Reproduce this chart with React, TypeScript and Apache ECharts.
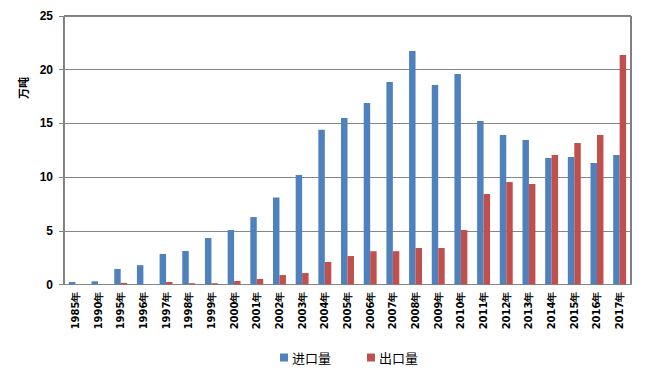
import React, { useEffect, useRef } from "react";
import * as echarts from "echarts";

const categories = [
  "1985年", "1990年", "1995年", "1996年", "1997年", "1998年", "1999年",
  "2000年", "2001年", "2002年", "2003年", "2004年", "2005年", "2006年",
  "2007年", "2008年", "2009年", "2010年", "2011年", "2012年", "2013年",
  "2014年", "2015年", "2016年", "2017年",
];
const importValues = [
  0.23, 0.3, 1.44, 1.8, 2.84, 3.12, 4.33, 5.07, 6.28, 8.1, 10.2, 14.4, 15.5,
  16.9, 18.85, 21.74, 18.58, 19.6, 15.22, 13.92, 13.45, 11.78, 11.87, 11.31, 12.06,
];
const exportValues = [
  0, 0, 0.15, 0, 0.23, 0.12, 0.12, 0.33, 0.51, 0.88, 1.07, 2.1, 2.65,
  3.1, 3.1, 3.4, 3.4, 5.07, 8.43, 9.54, 9.36, 12.06, 13.17, 13.92, 21.37,
];
const seriesNames = ["进口量", "出口量"];
const yUnit = "万吨";

export default function App() {
  const ref = useRef<HTMLDivElement>(null);
  useEffect(() => {
    if (!ref.current) return;
    const chart = echarts.init(ref.current, undefined, { renderer: "svg" });
    chart.setOption({
      animation: false,
      backgroundColor: "#fff",
      grid: {
        left: 64,
        right: 24,
        top: 16,
        bottom: 93.5,
        show: true,
        borderColor: "#000",
        borderWidth: 1,
        backgroundColor: "transparent",
      },
      legend: {
        data: seriesNames,
        top: 351,
        left: 280,
        padding: 0,
        itemWidth: 8,
        itemHeight: 8,
        itemGap: 36,
        icon: "rect",
        textStyle: { fontSize: 13, color: "#000", fontFamily: "Noto Sans CJK SC", padding: [0, 0, 0, -1] },
      },
      graphic: [
        {
          type: "text",
          x: 17,
          y: 99,
          rotation: Math.PI / 2,
          style: {
            text: yUnit,
            fontSize: 11,
            fontWeight: "bold",
            fill: "#000",
            fontFamily: "Noto Sans CJK SC",
          },
        },
      ],
      xAxis: {
        type: "category",
        data: categories,
        axisLine: { lineStyle: { color: "#868686" } },
        axisTick: { show: false },
        axisLabel: {
          rotate: 90,
          interval: 0,
          margin: 7,
          fontSize: 10,
          fontWeight: "bold",
          color: "#000",
          fontFamily: "DejaVu Sans",
        },
      },
      yAxis: {
        type: "value",
        min: 0,
        max: 25,
        interval: 5,
        axisLine: { show: true, lineStyle: { color: "#868686" } },
        axisTick: { show: true, length: 5, lineStyle: { color: "#868686" } },
        splitLine: { lineStyle: { color: "#868686", width: 1 } },
        axisLabel: {
          margin: 11,
          fontSize: 12,
          fontWeight: "bold",
          color: "#000",
          fontFamily: "Liberation Sans",
        },
      },
      series: [
        {
          name: seriesNames[0],
          type: "bar",
          data: importValues,
          itemStyle: { color: "#4F81BD" },
          barGap: "0%",
          barCategoryGap: "43%",
        },
        {
          name: seriesNames[1],
          type: "bar",
          data: exportValues,
          itemStyle: { color: "#C0504D" },
          barGap: "0%",
          barCategoryGap: "43%",
        },
      ],
    });
    return () => chart.dispose();
  }, []);
  return <div ref={ref} style={{ width: 655, height: 378, margin: -8 }} />;
}
